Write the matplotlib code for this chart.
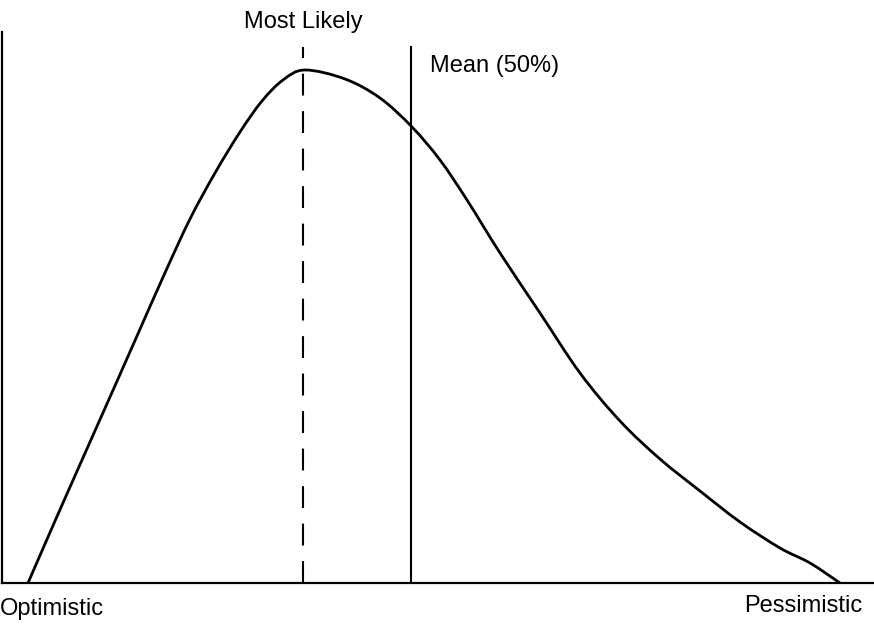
import numpy as np
import matplotlib.pyplot as plt
from matplotlib.path import Path
from matplotlib.patches import PathPatch

plt.rcParams['font.family'] = ['Liberation Sans', 'DejaVu Sans']

# curve (x = duration, y = relative likelihood)
curve_x = [26, 53, 80, 108, 135, 162, 188, 213, 238, 260, 281, 303,
           343, 378, 410, 438, 465, 498, 538, 578, 618, 658, 698, 738,
           778, 808, 838]
curve_y = [0, 62, 123, 186, 247, 308, 364, 410, 451, 482, 503, 513,
           504, 485, 456, 423, 383, 330, 270, 210, 162, 124, 92, 61,
           35, 20, 0]

mode_x = 301
mean_x = 409
marker_top = 536

labels = {
    'mode': 'Most Likely',
    'mean': 'Mean (50%)',
    'low': 'Optimistic',
    'high': 'Pessimistic',
}


def smooth_path(xs, ys):
    # Catmull-Rom through the read points, drawn as cubic Bezier segments
    pts = np.column_stack([xs, ys]).astype(float)
    n = len(pts)
    verts = [pts[0]]
    codes = [Path.MOVETO]
    for i in range(n - 1):
        p0 = pts[i - 1] if i > 0 else pts[i]
        p1 = pts[i]
        p2 = pts[i + 1]
        p3 = pts[i + 2] if i + 2 < n else pts[i + 1]
        verts += [p1 + (p2 - p0) / 6, p2 - (p3 - p1) / 6, p2]
        codes += [Path.CURVE4] * 3
    return Path(verts, codes)


def draw_chart():
    fig = plt.figure(figsize=(8.74, 6.29), dpi=100)
    ax = fig.add_axes([2 / 874, 46 / 629, 872 / 874, 551 / 629])

    ax.add_patch(PathPatch(smooth_path(curve_x, curve_y), facecolor='none',
                           edgecolor='black', linewidth=2.0, clip_on=False))
    ax.plot([mode_x, mode_x], [0, marker_top], color='black', linewidth=1.5,
            linestyle=(0, (10.5, 7.5)))
    ax.plot([mean_x, mean_x], [0, marker_top], color='black', linewidth=1.5)

    ax.set_xlim(0, 872)
    ax.set_ylim(0, 551)
    for side in ['top', 'right']:
        ax.spines[side].set_visible(False)
    for side in ['left', 'bottom']:
        ax.spines[side].set_linewidth(1.6)
    ax.set_xticks([])
    ax.set_yticks([])

    ax.text(mode_x, 555, labels['mode'], fontsize=17, ha='center',
            va='baseline', clip_on=False)
    ax.text(428, 511, labels['mean'], fontsize=17, ha='left', va='baseline')
    ax.text(-2, -32, labels['low'], fontsize=17, ha='left', va='baseline',
            clip_on=False)
    ax.text(860, -29, labels['high'], fontsize=17, ha='right', va='baseline',
            clip_on=False)

    fig.savefig('out.png', dpi=100)


if __name__ == '__main__':
    draw_chart()
